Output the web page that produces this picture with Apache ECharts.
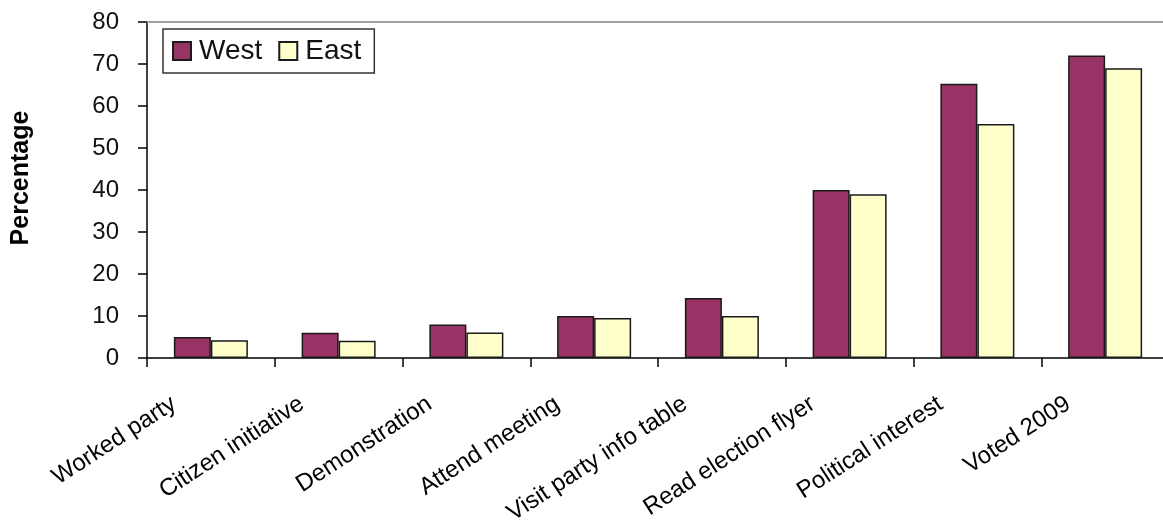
<!DOCTYPE html>
<html>
<head>
<meta charset="utf-8">
<script src="https://cdn.jsdelivr.net/npm/echarts@6/dist/echarts.min.js"></script>
<style>
  html, body { margin: 0; padding: 0; background: #fff; }
  #chart { width: 1163px; height: 523px; }
</style>
</head>
<body>
<div id="chart"></div>
<script>
// Participation by activity, West vs East (percent)
const categories = ['Worked party', 'Citizen initiative', 'Demonstration', 'Attend meeting',
  'Visit party info table', 'Read election flyer', 'Political interest', 'Voted 2009'];
const westValues = [5, 6, 8, 10, 14.3, 40, 65.3, 72];
const eastValues = [4.2, 4.1, 6.1, 9.5, 10, 39, 55.7, 69];
const yTicks = { min: 0, max: 80, step: 10 };

const font = 'Liberation Sans, Arial, sans-serif';
const chart = echarts.init(document.getElementById('chart'), null, { renderer: 'canvas' });

const barBorder = { borderColor: '#1a1a1a', borderWidth: 1.5 };

chart.setOption({
  animation: false,
  backgroundColor: '#fff',
  textStyle: { fontFamily: font },
  grid: { left: 147, right: -6, top: 22, bottom: 165, containLabel: false, outerBoundsMode: 'none' },
  legend: {
    left: 163, top: 29,
    orient: 'horizontal',
    padding: [8, 13, 8, 9],
    itemGap: 16,
    itemWidth: 18, itemHeight: 18,
    icon: 'rect',
    borderColor: '#333', borderWidth: 1.5, borderRadius: 0,
    backgroundColor: '#fff',
    textStyle: { fontSize: 28, color: '#111', fontFamily: font, padding: [0, 0, 0, 3] },
    data: ['West', 'East']
  },
  xAxis: [{
    type: 'category',
    data: categories,
    boundaryGap: true,
    axisLine: { lineStyle: { color: '#000', width: 1.5 } },
    axisTick: { show: true, length: 9, lineStyle: { color: '#000', width: 1.5 } },
    axisLabel: {
      rotate: 33, interval: 0, margin: 20,
      fontSize: 24, color: '#000', fontFamily: font,
      padding: [0, 44, 0, 0]
    },
    splitLine: { show: false }
  }, {
    type: 'category',
    data: categories,
    position: 'top',
    axisLine: { lineStyle: { color: '#a0a0a0', width: 2 } },
    axisTick: { show: false },
    axisLabel: { show: false },
    splitLine: { show: false }
  }],
  yAxis: {
    type: 'value',
    min: yTicks.min, max: yTicks.max, interval: yTicks.step,
    name: 'Percentage',
    nameLocation: 'middle',
    nameGap: 113,
    nameRotate: 90,
    nameTextStyle: { fontSize: 25, fontWeight: 'bold', color: '#000', fontFamily: font, padding: [0, 0, 0, 24] },
    axisLine: { show: true, lineStyle: { color: '#000', width: 1.5 } },
    axisTick: { show: true, length: 9, lineStyle: { color: '#000', width: 1.5 } },
    axisLabel: { fontSize: 24, color: '#111', margin: 28, fontFamily: font },
    splitLine: { show: false }
  },
  series: [{
    name: 'West', type: 'bar', data: westValues,
    barWidth: 37, barGap: '0%',
    itemStyle: Object.assign({ color: '#993366' }, barBorder)
  }, {
    name: 'East', type: 'bar', data: eastValues,
    barWidth: 37, barGap: '0%',
    itemStyle: Object.assign({ color: '#FFFFCC' }, barBorder)
  }]
});
</script>
</body>
</html>
